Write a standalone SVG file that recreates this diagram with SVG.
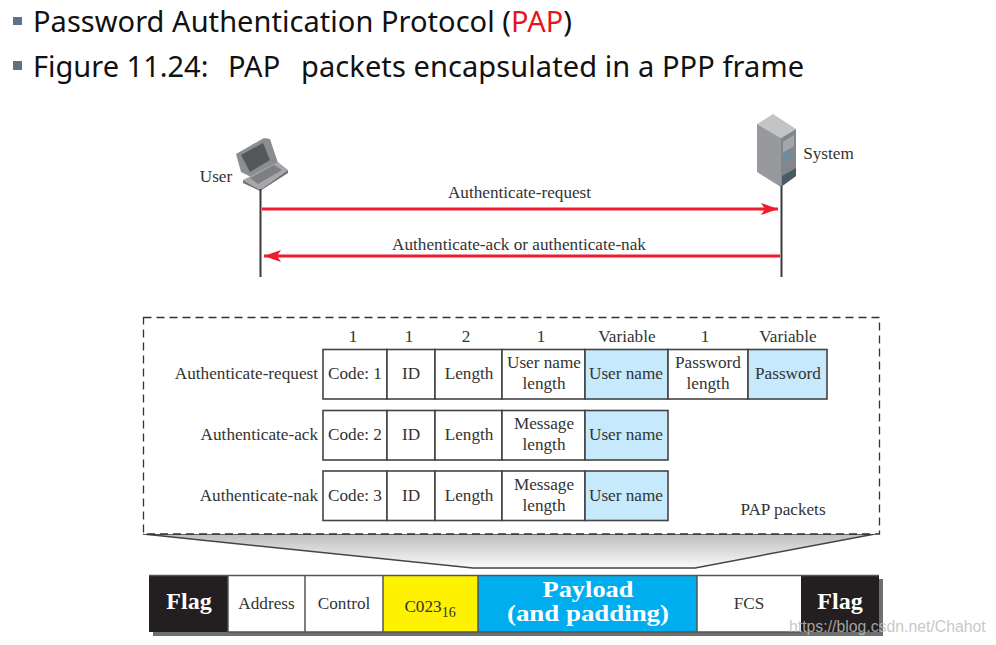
<svg xmlns="http://www.w3.org/2000/svg" width="996" height="645" viewBox="0 0 996 645">
<style>
.h{font-family:"Noto Sans","Open Sans",sans-serif;font-size:29px;fill:#111}
.t{font-family:"Liberation Serif",serif;font-size:17.2px;fill:#333;text-anchor:middle}
.e{text-anchor:end}
.c{fill:#fff;stroke:#444;stroke-width:1.6}
.b{fill:#c6e9fb;stroke:#444;stroke-width:1.6}
.w{font-family:"Liberation Serif",serif;font-weight:bold;fill:#fff;text-anchor:middle}
.ln{stroke:#3a3a3a;stroke-width:2;fill:none}
.ar{stroke:#ee1c2e;stroke-width:2.8;fill:none}
</style>
<defs>
<linearGradient id="fun" x1="0" y1="0" x2="0" y2="1"><stop offset="0" stop-color="#bcbdc0"/><stop offset="1" stop-color="#fbfbfb"/></linearGradient>
<marker id="ah" markerWidth="18" markerHeight="12" refX="17" refY="6" orient="auto" markerUnits="userSpaceOnUse"><path d="M0 0L17 6L0 12L4 6Z" fill="#ee1c2e"/></marker>
</defs>
<rect width="996" height="645" fill="#fff"/>
<g id="heading">
<rect x="13" y="17" width="9" height="8" fill="#5b7287"/>
<text class="h" x="33" y="32" textLength="539" lengthAdjust="spacing">Password Authentication Protocol (<tspan fill="#e8141c">PAP</tspan>)</text>
<rect x="13" y="61" width="9" height="9" fill="#5b7287"/>
<text class="h" x="33" y="77">Figure 11.24:</text>
<text class="h" x="228" y="77">PAP</text>
<text class="h" x="301" y="77" textLength="503" lengthAdjust="spacing">packets encapsulated in a PPP frame</text>
</g>
<g id="user">
<path d="M236 154L264 138L270 139L278 163L253 178L241 172Z" fill="#8b8d90"/>
<path d="M241 155L263 143L270 160L250 172Z" fill="#55585b"/>
<path d="M243 180L278 162L288 170L260 190Z" fill="#a5a7a9"/>
<path d="M243 180L260 190L288 170L288 173L260 191L243 183Z" fill="#6d6f72"/>
<path d="M250 178L274 165L282 170L258 184Z" fill="#7d7f82"/>
<text class="t" x="216" y="182">User</text>
</g>
<g id="system">
<path d="M757 124L773 114L796 129L781 138Z" fill="#c2c4c6"/>
<path d="M757 124L781 138L781 187L757 172Z" fill="#97999c"/>
<path d="M781 138L796 129L796 176L781 187Z" fill="#83868a"/>
<path d="M783 142L794 135V146L783 153Z" fill="#a4a6a9"/>
<path d="M784 152L792 148V157L784 162Z" fill="#6d8ca0"/>
<path d="M782 176L796 168V176L782 186Z" fill="#4a5a66"/>
<text class="t" x="828.500" y="159">System</text>
</g>
<g id="connectors">
<path class="ln" d="M260.500 189V277"/>
<path class="ln" d="M781.500 186V277"/>
<path class="ar" d="M262 209H778" marker-end="url(#ah)"/>
<path class="ar" d="M780 256H264" marker-end="url(#ah)"/>
<path d="M143 534L473 568H695L875 534Z" fill="url(#fun)" stroke="#444" stroke-width="1.500"/>
</g>
<text class="t" x="519.500" y="198">Authenticate-request</text>
<text class="t" x="519" y="250">Authenticate-ack or authenticate-nak</text>
<g id="pap-packets">
<rect x="143.500" y="317.500" width="736" height="216.500" fill="#fff" stroke="#333" stroke-width="1.300" stroke-dasharray="8 5"/>
<text class="t" x="353" y="342">1</text><text class="t" x="409" y="342">1</text><text class="t" x="466" y="342">2</text><text class="t" x="541" y="342">1</text><text class="t" x="627" y="342">Variable</text><text class="t" x="705" y="342">1</text><text class="t" x="788" y="342">Variable</text>
<text class="t" x="783" y="515">PAP packets</text>
</g>
<g id="authenticate-request">
<text class="t e" x="318" y="379">Authenticate-request</text>
<rect class="c" x="323" y="349.500" width="64" height="49.500"/><rect class="c" x="387" y="349.500" width="48" height="49.500"/><rect class="c" x="435" y="349.500" width="67" height="49.500"/><rect class="c" x="502" y="349.500" width="83" height="49.500"/><rect class="b" x="585" y="349.500" width="83" height="49.500"/><rect class="c" x="668" y="349.500" width="80" height="49.500"/><rect class="b" x="748" y="349.500" width="79" height="49.500"/>
<text class="t" x="355" y="379">Code: 1</text><text class="t" x="411" y="379">ID</text><text class="t" x="469" y="379">Length</text><text class="t" x="544" y="368">User name</text><text class="t" x="544" y="389">length</text><text class="t" x="626" y="379">User name</text><text class="t" x="708" y="368">Password</text><text class="t" x="708" y="389">length</text><text class="t" x="788" y="379">Password</text>
</g>
<g id="authenticate-ack">
<text class="t e" x="318" y="440">Authenticate-ack</text>
<rect class="c" x="323" y="410.500" width="64" height="49.500"/><rect class="c" x="387" y="410.500" width="48" height="49.500"/><rect class="c" x="435" y="410.500" width="67" height="49.500"/><rect class="c" x="502" y="410.500" width="83" height="49.500"/><rect class="b" x="585" y="410.500" width="83" height="49.500"/>
<text class="t" x="355" y="440">Code: 2</text><text class="t" x="411" y="440">ID</text><text class="t" x="469" y="440">Length</text><text class="t" x="544" y="429">Message</text><text class="t" x="544" y="450">length</text><text class="t" x="626" y="440">User name</text>
</g>
<g id="authenticate-nak">
<text class="t e" x="318" y="501">Authenticate-nak</text>
<rect class="c" x="323" y="471" width="64" height="49.500"/><rect class="c" x="387" y="471" width="48" height="49.500"/><rect class="c" x="435" y="471" width="67" height="49.500"/><rect class="c" x="502" y="471" width="83" height="49.500"/><rect class="b" x="585" y="471" width="83" height="49.500"/>
<text class="t" x="355" y="501">Code: 3</text><text class="t" x="411" y="501">ID</text><text class="t" x="469" y="501">Length</text><text class="t" x="544" y="490">Message</text><text class="t" x="544" y="511">length</text><text class="t" x="626" y="501">User name</text>
</g>
<g id="ppp-frame">
<rect x="153" y="579" width="730" height="57" fill="#6e6f71"/>
<rect x="149" y="575" width="79" height="57" fill="#231f20"/>
<rect x="228" y="575" width="77" height="57" fill="#fff"/><rect x="305" y="575" width="78" height="57" fill="#fff"/>
<rect x="383" y="575" width="95" height="57" fill="#fff200"/><rect x="478" y="575" width="219" height="57" fill="#00aeef"/>
<rect x="697" y="575" width="104" height="57" fill="#fff"/><rect x="801" y="575" width="78" height="57" fill="#231f20"/>
<path d="M149 575.500H879M228 632H801M228 575V632M305 575V632M383 575V632M478 575V632M697 575V632" stroke="#555" stroke-width="1.500" fill="none"/>
<text class="w" x="189" y="609" font-size="24">Flag</text>
<text class="t" x="266.500" y="609">Address</text>
<text class="t" x="344" y="609">Control</text>
<text class="t" x="430" y="612" fill="#222">C023<tspan font-size="14" dy="5">16</tspan></text>
<text class="w" font-size="24" x="588" y="597" textLength="91" lengthAdjust="spacingAndGlyphs">Payload</text>
<text class="w" font-size="24" x="588" y="621" textLength="162" lengthAdjust="spacingAndGlyphs">(and padding)</text>
<text class="t" x="749" y="609">FCS</text>
<text class="w" x="840" y="609" font-size="24">Flag</text>
</g>
<text x="789" y="632" font-family="Liberation Sans,Arial,sans-serif" font-size="15.800" fill="#bdbdbd" fill-opacity="0.85">https://blog.csdn.net/Chahot</text>
</svg>
